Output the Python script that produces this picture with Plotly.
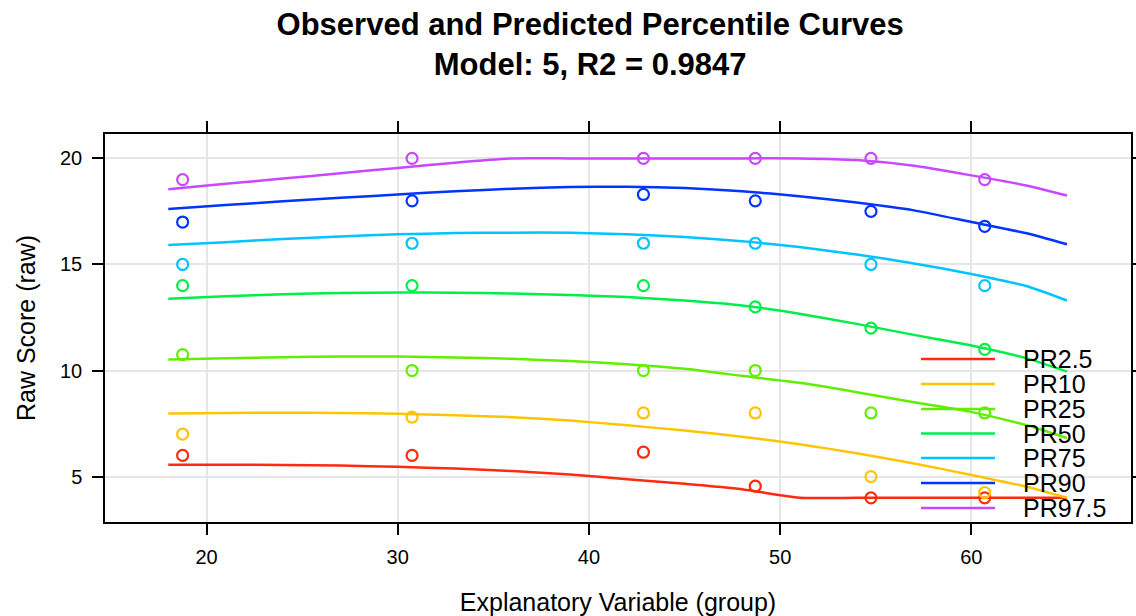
import plotly.graph_objects as go

# ---------------- data ----------------
series_names = ["PR2.5", "PR10", "PR25", "PR50", "PR75", "PR90", "PR97.5"]
series_colors = ["#FF2A10", "#FFC400", "#62EE00", "#00EE48", "#00C4FF", "#0034FF", "#C848FF"]

# predicted percentile curves (sampled along the explanatory variable)
x_curve = [18, 21, 24, 27, 30, 33, 36, 39, 42, 45, 48, 51, 54, 57, 60, 63, 65]
pred_pr2_5 = [5.56, 5.56, 5.55, 5.52, 5.46, 5.38, 5.26, 5.10, 4.88, 4.66, 4.40, 4.00, 4.00, 4.00, 4.00, 4.00, 4.00]
pred_pr10 = [7.97, 8.00, 8.01, 8.00, 7.96, 7.89, 7.80, 7.64, 7.42, 7.17, 6.88, 6.53, 6.10, 5.62, 5.08, 4.50, 4.00]
pred_pr25 = [10.52, 10.58, 10.63, 10.66, 10.66, 10.62, 10.55, 10.45, 10.30, 10.08, 9.75, 9.42, 8.98, 8.50, 8.05, 7.40, 6.82]
pred_pr50 = [13.38, 13.50, 13.60, 13.66, 13.68, 13.67, 13.63, 13.56, 13.47, 13.30, 13.07, 12.68, 12.20, 11.68, 11.18, 10.55, 9.95]
pred_pr75 = [15.92, 16.05, 16.20, 16.32, 16.42, 16.48, 16.50, 16.50, 16.42, 16.30, 16.10, 15.82, 15.47, 15.05, 14.55, 13.95, 13.30]
pred_pr90 = [17.62, 17.80, 17.98, 18.14, 18.30, 18.45, 18.57, 18.65, 18.66, 18.60, 18.45, 18.22, 17.92, 17.55, 17.00, 16.45, 15.95]
pred_pr97_5 = [18.55, 18.80, 19.05, 19.30, 19.55, 19.80, 20.00, 20.00, 20.00, 20.00, 20.00, 20.00, 19.92, 19.65, 19.20, 18.70, 18.25]

# observed percentiles per group
x_obs = [18.75, 30.75, 42.85, 48.7, 54.75, 60.7]
obs_pr2_5 = [6.0, 6.0, 6.15, 4.55, 4.0, 4.0]
obs_pr10 = [7.0, 7.8, 8.0, 8.0, 5.0, 4.25]
obs_pr25 = [10.75, 10.0, 10.0, 10.0, 8.0, 8.0]
obs_pr50 = [14.0, 14.0, 14.0, 13.0, 12.0, 11.0]
obs_pr75 = [15.0, 16.0, 16.0, 16.0, 15.0, 14.0]
obs_pr90 = [17.0, 18.0, 18.3, 18.0, 17.5, 16.8]
obs_pr97_5 = [19.0, 20.0, 20.0, 20.0, 20.0, 19.0]

x_ticks = [20, 30, 40, 50, 60]
y_ticks = [5, 10, 15, 20]

title_line1 = "Observed and Predicted Percentile Curves"
title_line2 = "Model: 5, R2 = 0.9847"
x_title = "Explanatory Variable (group)"
y_title = "Raw Score (raw)"

# ---------------- figure ----------------
preds = [pred_pr2_5, pred_pr10, pred_pr25, pred_pr50, pred_pr75, pred_pr90, pred_pr97_5]
obss = [obs_pr2_5, obs_pr10, obs_pr25, obs_pr50, obs_pr75, obs_pr90, obs_pr97_5]

FONT = "Liberation Sans, Arial, Helvetica, sans-serif"
fig = go.Figure()

for name, col, yp, yo in zip(series_names, series_colors, preds, obss):
    fig.add_trace(go.Scatter(
        x=x_curve, y=yp, mode="lines", name=name,
        line=dict(color=col, width=2.5, shape="spline", smoothing=0.5),
        showlegend=False))
    fig.add_trace(go.Scatter(
        x=x_obs, y=yo, mode="markers", name=name + " observed",
        marker=dict(symbol="circle-open", size=11, color=col, line=dict(color=col, width=2.2)),
        showlegend=False))

# key (drawn inside the panel, like the original)
L, R, T, B = 105, 5, 134, 94
W, H = 1136, 616
pw, ph = W - L - R, H - T - B
row_y = [359, 384, 409, 433.5, 458, 483, 508]
shapes = []
annotations = []
for name, col, py in zip(series_names, series_colors, row_y):
    yp = (H - B - py) / ph
    shapes.append(dict(type="line", xref="paper", yref="paper",
                       x0=(921 - L) / pw, x1=(995 - L) / pw, y0=yp, y1=yp,
                       line=dict(color=col, width=2.5)))
    annotations.append(dict(text=name, xref="paper", yref="paper",
                            x=(1021 - L) / pw, y=yp, xanchor="left", yanchor="middle",
                            showarrow=False, font=dict(family=FONT, size=25, color="black")))

fig.update_layout(
    width=W, height=H,
    margin=dict(l=L, r=R, t=T, b=B, autoexpand=False),
    paper_bgcolor="white", plot_bgcolor="white",
    font=dict(family=FONT, color="black"),
    title=dict(text="<b>" + title_line1 + "</b><br><b>" + title_line2 + "</b>",
               x=0.5195, xanchor="center", xref="container",
               y=1 - 35 / H, yanchor="top", yref="container",
               font=dict(family=FONT, size=31, color="black")),
    shapes=shapes, annotations=annotations,
    showlegend=False,
)

axis_common = dict(
    showline=True, linecolor="black", linewidth=1.5, mirror="ticks",
    ticks="outside", ticklen=11, tickwidth=1.5, tickcolor="black",
    showgrid=True, gridcolor="#E6E6E6", gridwidth=1.5, zeroline=False,
    automargin=False,
    tickfont=dict(family=FONT, size=20, color="black"),
)
fig.update_xaxes(range=[14.69, 68.35], tickvals=x_ticks, ticktext=[str(v) for v in x_ticks],
                 title=dict(text=x_title, font=dict(family=FONT, size=25), standoff=27),
                 ticklabelstandoff=5, **axis_common)
fig.update_yaxes(range=[2.86, 21.15], tickvals=y_ticks, ticktext=[str(v) for v in y_ticks],
                 title=dict(text=y_title, font=dict(family=FONT, size=25), standoff=17),
                 ticklabelstandoff=6, **axis_common)

fig.write_html("out.html",
               config={"displayModeBar": False},
               post_script="document.body.style.margin='0';document.body.style.overflow='hidden';")
